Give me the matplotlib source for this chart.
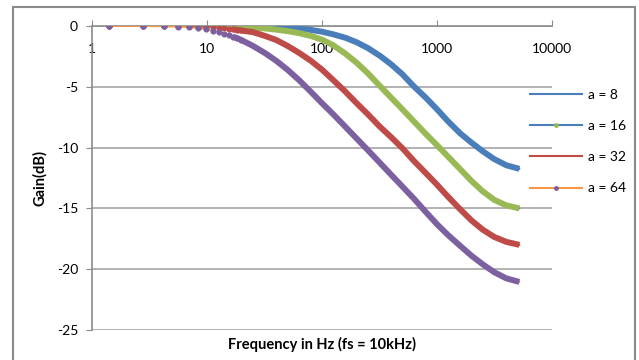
# python3

import matplotlib
matplotlib.use('Agg')
import matplotlib.pyplot as plt
from matplotlib.lines import Line2D
from matplotlib.patches import Rectangle
from matplotlib.ticker import NullLocator

# frequency points (Hz), shared by all four curves
freq = [1.4, 2.8, 4.2, 5.6, 7.0, 8.4, 9.8, 11.2, 12.6, 14.0, 15.4, 16.8, 18.2, 19.6,
        25, 32, 40, 50, 63, 80, 100, 125, 160, 200, 250, 320, 400, 500, 630, 800,
        1000, 1250, 1600, 2000, 2500, 3150, 4000, 5200]

gain_a8 = [0, 0, 0, 0, 0, 0, 0, 0, 0, 0, 0, 0, 0, 0,
           -0.03, -0.05, -0.07, -0.13, -0.21, -0.32, -0.47, -0.68, -0.97, -1.34, -1.81, -2.46, -3.16, -3.97, -4.97, -5.9,
           -6.85, -7.85, -8.85, -9.6, -10.3, -10.95, -11.45, -11.75]

gain_a16 = [0, 0, 0, 0, -0.01, -0.01, -0.02, -0.03, -0.04, -0.05, -0.06, -0.07, -0.08, -0.09,
            -0.13, -0.2, -0.3, -0.42, -0.58, -0.82, -1.12, -1.58, -2.28, -3.02, -3.88, -4.95, -5.9, -6.85, -7.85, -8.88,
            -9.8, -10.75, -11.8, -12.75, -13.6, -14.3, -14.75, -15.0]

gain_a32 = [0, 0, -0.01, -0.02, -0.03, -0.05, -0.07, -0.1, -0.13, -0.18, -0.22, -0.27, -0.32, -0.37,
            -0.5, -0.82, -1.15, -1.63, -2.2, -2.86, -3.59, -4.44, -5.41, -6.35, -7.25, -8.3, -9.15, -10.05, -11.1, -12.1,
            -13.05, -14.05, -15.1, -16.0, -16.75, -17.35, -17.75, -18.0]

gain_a64 = [0, -0.01, -0.03, -0.05, -0.1, -0.18, -0.27, -0.4, -0.5, -0.62, -0.75, -0.88, -1.0, -1.12,
            -1.63, -2.23, -2.86, -3.59, -4.44, -5.41, -6.35, -7.25, -8.3, -9.25, -10.2, -11.27, -12.24, -13.2, -14.2, -15.3,
            -16.3, -17.2, -18.1, -18.9, -19.6, -20.25, -20.75, -21.05]

labels = ['a = 8', 'a = 16', 'a = 32', 'a = 64']
line_colors = ['#4a7ebb', '#4a7ebb', '#be4b48', '#f79646']
marker_colors = ['#4a7ebb', '#98b954', '#be4b48', '#7d60a0']
series = [gain_a8, gain_a16, gain_a32, gain_a64]

plt.rcParams['font.family'] = ['Lato', 'DejaVu Sans']
plt.rcParams['axes.unicode_minus'] = False

fig = plt.figure(figsize=(6.39, 3.6), dpi=100)
ax = fig.add_axes([92 / 639, 30 / 360, 460 / 639, 304 / 360])

n_dots = 14  # separate dots at the low end, merged into a band above
for gains, lc, mc in zip(series, line_colors, marker_colors):
    ax.plot(freq, gains, color=lc, lw=1.3, zorder=3)
    ax.plot(freq[:n_dots], gains[:n_dots], ls='none', marker='o', ms=3.4,
            mfc=mc, mec=mc, zorder=4)
    ax.plot(freq[n_dots - 3:], gains[n_dots - 3:], color=mc, lw=4.3,
            solid_capstyle='butt', solid_joinstyle='round', zorder=4)

ax.set_xscale('log')
ax.set_xlim(1, 10000)
ax.set_ylim(-25, 0)
ax.set_xticks([1, 10, 100, 1000, 10000])
ax.set_xticklabels(['1', '10', '100', '1000', '10000'])
ax.xaxis.set_minor_locator(NullLocator())
ax.set_yticks([0, -5, -10, -15, -20, -25])

ax.yaxis.grid(True, color='#a6a6a6', lw=1.2)
ax.set_axisbelow(True)
for side in ['bottom', 'right']:
    ax.spines[side].set_visible(False)
for side in ['top', 'left']:
    ax.spines[side].set_color('#8c8c8c')
    ax.spines[side].set_linewidth(1.2)

ax.tick_params(axis='x', which='major', top=True, bottom=False, labeltop=True,
               labelbottom=False, direction='out', length=4, color='#8c8c8c',
               labelsize=10, pad=-25)
ax.tick_params(axis='y', direction='out', length=4, color='#8c8c8c', labelsize=10, pad=6)

ax.set_xlabel('Frequency in Hz (fs = 10kHz)', fontsize=10.5, fontweight='bold', labelpad=5)
ax.set_ylabel('Gain(dB)', fontsize=10.5, fontweight='bold', labelpad=7)

handles = [Line2D([], [], color=lc, lw=1.5, marker='o', ms=2.5, mfc=mc, mec=mc)
           for lc, mc in zip(line_colors, marker_colors)]
handles[0] = Line2D([], [], color=line_colors[0], lw=1.5)
handles[2] = Line2D([], [], color=line_colors[2], lw=1.5)
ax.legend(handles, labels, loc='upper left', bbox_to_anchor=(530 / 639, 1 - 89 / 360),
          bbox_transform=fig.transFigure, frameon=False, numpoints=1, fontsize=10,
          handlelength=3.75, handletextpad=0.45, labelspacing=1.38,
          borderpad=0, borderaxespad=0)

fig.patches.append(Rectangle((13 / 639, -0.02), 622 / 639, 1 - 7 / 360 + 0.02,
                             transform=fig.transFigure, fill=False,
                             ec='#8a8a8a', lw=1.5))

fig.savefig('out.png', dpi=100)
